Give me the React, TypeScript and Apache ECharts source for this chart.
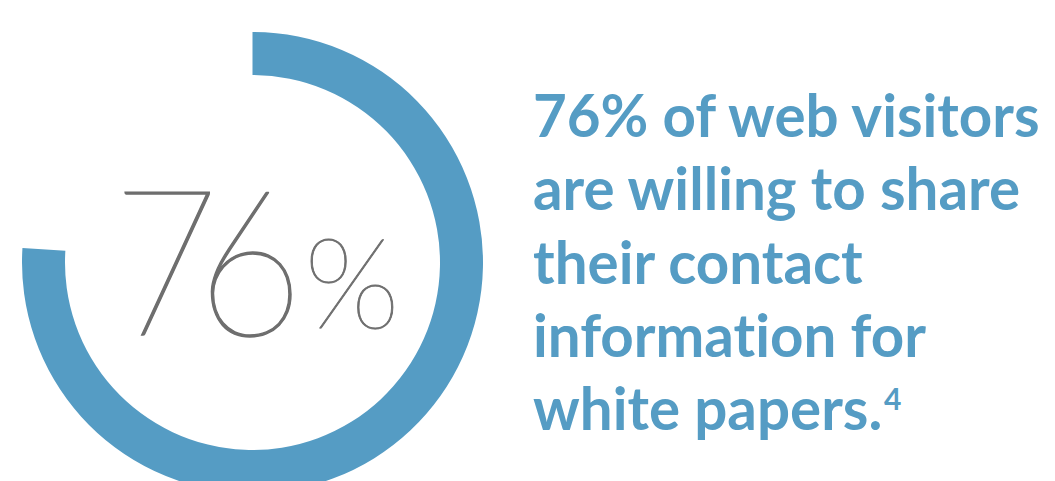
import React, { useEffect, useRef } from "react";
import * as echarts from "echarts";

const shareValues = [76, 24];
const shareNames = ["Willing to share", "Not willing"];
const bigNumber = "76";
const bigUnit = "%";
const headlineLines = [
  "76% of web visitors",
  "are willing to share",
  "their contact",
  "information for",
  "white papers.",
];
const footnoteMark = "4";

const BLUE = "#559cc4";
const GREY = "#6e6e6e";

export default function App() {
  const ref = useRef<HTMLDivElement>(null);
  useEffect(() => {
    if (!ref.current) return;
    const chart = echarts.init(ref.current, null, { renderer: "svg" });
    const lineGap = 73.3;
    const textFont = "Lato";
    const graphics: any[] = headlineLines.map((t, i) => ({
      type: "text",
      x: 533,
      y: 114 + lineGap * i,
      silent: true,
      style: {
        text: t,
        fill: BLUE,
        fontFamily: textFont,
        fontWeight: "bold",
        fontSize: 58.3,
        textAlign: "left",
        textVerticalAlign: "middle",
      },
    }));
    graphics.push({
      type: "text",
      x: 884,
      y: 398,
      silent: true,
      style: {
        text: footnoteMark,
        fill: BLUE,
        fontFamily: textFont,
        fontWeight: "bold",
        fontSize: 30,
        textAlign: "left",
        textVerticalAlign: "middle",
      },
    });
    graphics.push({
      type: "text",
      x: 112,
      y: 256,
      scaleX: 0.9,
      silent: true,
      style: {
        text: bigNumber,
        fill: GREY,
        stroke: GREY,
        lineWidth: 1.4,
        fontFamily: "Lato",
        fontWeight: 100,
        fontSize: 205,
        textAlign: "left",
        textVerticalAlign: "middle",
      },
    });
    graphics.push({
      type: "text",
      x: 304,
      y: 280,
      silent: true,
      style: {
        text: bigUnit,
        fill: GREY,
        stroke: GREY,
        lineWidth: 0.9,
        fontFamily: "Lato",
        fontWeight: 100,
        fontSize: 126,
        textAlign: "left",
        textVerticalAlign: "middle",
      },
    });
    chart.setOption({
      animation: false,
      series: [
        {
          type: "pie",
          silent: true,
          center: [252.5, 262.5],
          radius: [187.5, 230.5],
          startAngle: 90,
          clockwise: true,
          label: { show: false },
          labelLine: { show: false },
          data: shareValues.map((v, i) => ({
            value: v,
            name: shareNames[i],
            itemStyle: { color: i === 0 ? BLUE : "rgba(0,0,0,0)" },
          })),
        },
      ],
      graphic: graphics,
    });
    return () => chart.dispose();
  }, []);
  return (
    <>
      <style>{`svg text { font-variant-ligatures: none !important; font-feature-settings: "liga" 0, "clig" 0 !important; }
svg text[style*="205px"] { letter-spacing: -25px; }`}</style>
      <div
        ref={ref}
        style={{ position: "fixed", left: 0, top: 0, width: 1055, height: 481, background: "#fff" }}
      />
    </>
  );
}
